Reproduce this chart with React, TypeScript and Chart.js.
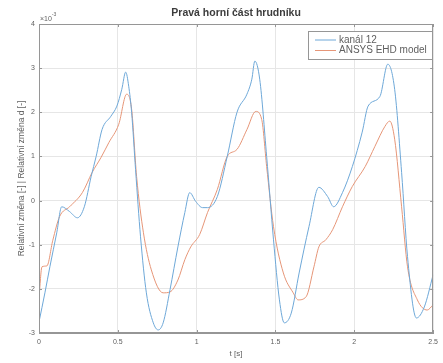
import React, { useEffect, useRef } from "react";
import { Chart, registerables } from "chart.js";

Chart.register(...registerables);

const TITLE = "Pravá horní část hrudníku";
const X_LABEL = "t [s]";
const Y_LABEL = "Relativní změna [-] | Relativní změna d [-]";
const SERIES_NAMES = ["kanál 12", "ANSYS EHD model"];
const X_TICKS = [0, 0.5, 1, 1.5, 2, 2.5];
const X_TICK_LABELS = ["0", "0.5", "1", "1.5", "2", "2.5"];
const Y_TICKS = [-3, -2, -1, 0, 1, 2, 3, 4];
const Y_TICK_LABELS = ["-3", "-2", "-1", "0", "1", "2", "3", "4"];

// values in units of 1e-3
const T_BLUE = [0, 0.0375, 0.069, 0.1125, 0.144, 0.194, 0.244, 0.2875, 0.331, 0.3625, 0.4, 0.456, 0.494, 0.525, 0.55, 0.569, 0.5875, 0.6125, 0.644, 0.681, 0.725, 0.756, 0.7875, 0.831, 0.881, 0.925, 0.956, 0.994, 1.0375, 1.069, 1.131, 1.194, 1.256, 1.319, 1.35, 1.369, 1.4, 1.444, 1.4875, 1.525, 1.556, 1.6, 1.65, 1.7125, 1.775, 1.831, 1.869, 1.925, 1.9875, 2.05, 2.0875, 2.1625, 2.2125, 2.256, 2.3, 2.3375, 2.394, 2.444, 2.5];
const V_BLUE = [-2.75, -2.09, -1.5, -0.73, -0.14, -0.25, -0.39, -0.14, 0.55, 1.0, 1.61, 1.91, 2.14, 2.52, 2.91, 2.59, 2.0, 0.7, -0.82, -2.09, -2.77, -2.93, -2.77, -2.02, -1.05, -0.27, 0.18, -0.02, -0.16, -0.16, 0.09, 1.0, 2.0, 2.41, 2.75, 3.16, 2.75, 1.0, -0.89, -2.25, -2.77, -2.55, -1.64, -0.59, 0.3, 0.09, -0.14, 0.18, 0.77, 1.55, 2.14, 2.36, 3.09, 2.52, 0.64, -1.27, -2.66, -2.41, -1.68];

const T_ORANGE = [0, 0.019, 0.05, 0.0875, 0.131, 0.194, 0.275, 0.3375, 0.394, 0.444, 0.506, 0.556, 0.5875, 0.619, 0.6625, 0.7125, 0.7875, 0.831, 0.881, 0.925, 0.9625, 1.019, 1.069, 1.131, 1.194, 1.256, 1.319, 1.375, 1.4125, 1.444, 1.4875, 1.55, 1.6125, 1.644, 1.694, 1.744, 1.775, 1.819, 1.8625, 1.925, 1.9875, 2.069, 2.131, 2.194, 2.225, 2.256, 2.3, 2.3375, 2.4, 2.4625, 2.5];
const V_ORANGE = [-2.2, -1.5, -1.48, -0.9, -0.36, -0.14, 0.18, 0.64, 0.98, 1.32, 1.73, 2.41, 2.07, 0.55, -0.73, -1.57, -2.09, -2.07, -1.8, -1.34, -1.05, -0.77, -0.27, 0.25, 1.0, 1.16, 1.61, 2.02, 1.84, 0.77, -0.59, -1.64, -2.09, -2.25, -2.18, -1.5, -1.05, -0.89, -0.66, -0.14, 0.32, 0.77, 1.23, 1.68, 1.8, 1.39, -0.14, -1.5, -2.25, -2.48, -2.36];

const BLUE = "rgb(110,168,216)";
const ORANGE = "rgb(230,150,120)";
const AXIS = "rgb(150,150,150)";
const GRID = "rgb(230,230,230)";
const TEXT = "rgb(95,95,95)";
const FONT = "'Liberation Sans', Arial, sans-serif";

const decorPlugin = {
  id: "decor",
  afterDatasetsDraw(chart: any) {
    const ctx = chart.ctx;
    const a = chart.chartArea;
    const xs = chart.scales.x;
    const ys = chart.scales.y;
    ctx.save();
    // box
    ctx.strokeStyle = AXIS;
    ctx.lineWidth = 1;
    ctx.strokeRect(Math.round(a.left) + 0.5, Math.round(a.top) + 0.5, Math.round(a.right - a.left) - 1, Math.round(a.bottom - a.top) - 1);
    // inner ticks
    ctx.beginPath();
    X_TICKS.forEach((t) => {
      const px = Math.round(xs.getPixelForValue(t)) + 0.5;
      ctx.moveTo(px, a.bottom);
      ctx.lineTo(px, a.bottom - 3);
      ctx.moveTo(px, a.top);
      ctx.lineTo(px, a.top + 3);
    });
    Y_TICKS.forEach((v) => {
      const py = Math.round(ys.getPixelForValue(v)) + 0.5;
      ctx.moveTo(a.left, py);
      ctx.lineTo(a.left + 3, py);
      ctx.moveTo(a.right, py);
      ctx.lineTo(a.right - 3, py);
    });
    ctx.stroke();
    // title
    ctx.fillStyle = "rgb(60,60,60)";
    ctx.font = `bold 10.5px ${FONT}`;
    ctx.textAlign = "center";
    ctx.textBaseline = "middle";
    ctx.fillText(TITLE, (a.left + a.right) / 2, 13);
    // x label
    ctx.fillStyle = TEXT;
    ctx.font = `8px ${FONT}`;
    ctx.fillText(X_LABEL, (a.left + a.right) / 2, 354);
    // y label
    ctx.save();
    ctx.translate(22, (a.top + a.bottom) / 2);
    ctx.rotate(-Math.PI / 2);
    ctx.font = `8.5px ${FONT}`;
    ctx.fillText(Y_LABEL, 0, 0);
    ctx.restore();
    // exponent
    ctx.textAlign = "left";
    ctx.font = `7px ${FONT}`;
    ctx.fillText("×10", a.left + 1, a.top - 5);
    const w = ctx.measureText("×10").width;
    ctx.font = `5px ${FONT}`;
    ctx.fillText("-3", a.left + 1 + w, a.top - 9);
    // legend
    const lx = 308, ly = 31, lw = 125, lh = 29;
    ctx.fillStyle = "#fff";
    ctx.fillRect(lx, ly, lw, lh);
    ctx.strokeStyle = AXIS;
    ctx.strokeRect(lx + 0.5, ly + 0.5, lw - 1, lh - 1);
    ctx.font = `10px ${FONT}`;
    ctx.textBaseline = "middle";
    chart.data.datasets.forEach((ds: any, i: number) => {
      const yy = ly + 9 + i * 10.5;
      ctx.strokeStyle = ds.borderColor;
      ctx.beginPath();
      ctx.moveTo(315, yy);
      ctx.lineTo(336, yy);
      ctx.stroke();
      ctx.fillStyle = TEXT;
      ctx.fillText(ds.label, 339, yy);
    });
    ctx.restore();
  },
};

export default function App() {
  const ref = useRef<HTMLCanvasElement>(null);
  useEffect(() => {
    const chart = new Chart(ref.current!, {
      type: "line",
      data: {
        datasets: [
          {
            label: SERIES_NAMES[0],
            data: T_BLUE.map((t, i) => ({ x: t, y: V_BLUE[i] })),
            borderColor: BLUE,
            borderWidth: 1,
            pointRadius: 0,
            cubicInterpolationMode: "monotone",
          },
          {
            label: SERIES_NAMES[1],
            data: T_ORANGE.map((t, i) => ({ x: t, y: V_ORANGE[i] })),
            borderColor: ORANGE,
            borderWidth: 1,
            pointRadius: 0,
            cubicInterpolationMode: "monotone",
          },
        ],
      },
      options: {
        responsive: false,
        devicePixelRatio: 1,
        animation: false,
        layout: { padding: { top: 24, right: 5, left: 0, bottom: 0 } },
        plugins: { legend: { display: false }, title: { display: false }, tooltip: { enabled: false } },
        scales: {
          x: {
            type: "linear",
            min: 0,
            max: 2.5,
            afterBuildTicks: (s: any) => {
              s.ticks = X_TICKS.map((v) => ({ value: v }));
            },
            ticks: {
              callback: (v: any) => X_TICK_LABELS[X_TICKS.indexOf(Number(v))] ?? "",
              font: { size: 7, family: FONT },
              color: TEXT,
              padding: 5,
              maxRotation: 0,
              autoSkip: false,
            },
            grid: { color: GRID, drawTicks: false },
            border: { color: AXIS },
            afterFit: (s: any) => {
              s.height = 30;
            },
          },
          y: {
            type: "linear",
            min: -3,
            max: 4,
            afterBuildTicks: (s: any) => {
              s.ticks = Y_TICKS.map((v) => ({ value: v }));
            },
            ticks: {
              callback: (v: any) => Y_TICK_LABELS[Y_TICKS.indexOf(Number(v))] ?? "",
              font: { size: 7, family: FONT },
              color: TEXT,
              padding: 4,
              autoSkip: false,
            },
            grid: { color: GRID, drawTicks: false },
            border: { color: AXIS },
            afterFit: (s: any) => {
              s.width = 39;
            },
          },
        },
      },
      plugins: [decorPlugin],
    });
    return () => chart.destroy();
  }, []);
  return (
    <div style={{ position: "fixed", left: 0, top: 0, width: 443, height: 363, background: "#fff" }}>
      <canvas ref={ref} width={443} height={363} />
    </div>
  );
}
